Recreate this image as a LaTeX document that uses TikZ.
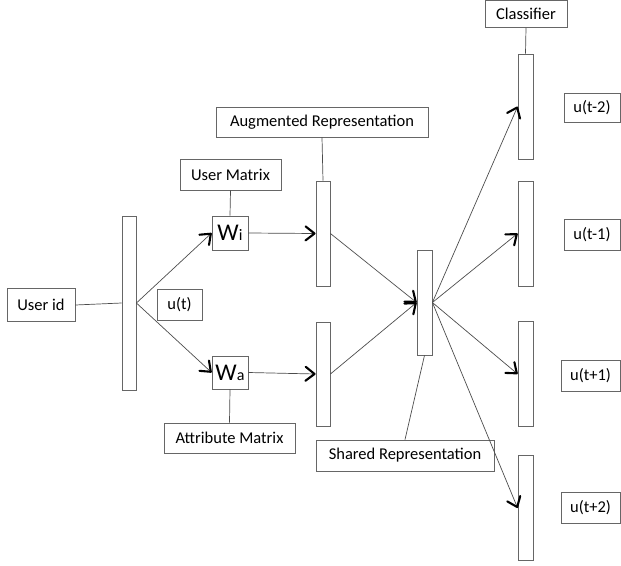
\documentclass[tikz,border=0pt]{standalone}
\usepackage{fontspec}
\setmainfont{Carlito}
\usetikzlibrary{arrows.meta}

\tikzset{
  box/.style={draw=black!60, line width=0.8pt, fill=white, inner sep=0pt, font=\fontsize{16.5}{18}\selectfont},
  bar/.style={draw=black!60, line width=0.8pt, fill=white, inner sep=0pt, minimum width=14pt, minimum height=105pt},
  link/.style={draw=black!70, line width=0.7pt},
  flow/.style={link, -{Straight Barb[length=9pt, width=14pt, line width=2.1pt, round, black]}},
}
\newcommand{\wmat}[1]{{\fontsize{24}{24}\selectfont W}{\fontsize{16}{16}\selectfont #1}}

\begin{document}
\begin{tikzpicture}[x=1pt, y=-1pt]
            \useasboundingbox (0,0) rectangle (621,565);

            % Input side
            \node (userid) [box, minimum width=68pt, minimum height=33pt] at (41, 305) {User id};
            \node (inbar) [bar, minimum height=174pt] at (129, 303) {};
            \node (ut) [box, minimum width=45pt, minimum height=31pt] at (179.5, 304.5) {u(t)};

            % Embedding matrices
            \node (umat) [box, minimum width=101pt, minimum height=31pt] at (230.5, 174.5) {User Matrix};
            \node (wi) [box, minimum width=36pt, minimum height=34pt] at (230, 233) {\wmat{i}};
            \node (wa) [box, minimum width=36pt, minimum height=33pt] at (230, 372.5) {\wmat{a}};
            \node (amat) [box, minimum width=131pt, minimum height=30pt] at (229.5, 438) {Attribute Matrix};

            % Augmented representation
            \node (augrep) [box, minimum width=212pt, minimum height=30pt] at (322, 122) {Augmented Representation};
            \node (augtop) [bar] at (323, 233.5) {};
            \node (augbot) [bar, minimum height=104pt] at (323, 374) {};

            % Shared representation
            \node (shared) [bar, minimum width=15pt] at (424.5, 302.5) {};
            \node (sharedrep) [box, minimum width=178pt, minimum height=31pt] at (405, 455.5) {Shared Representation};

            % Classifiers
            \node (classifier) [box, minimum width=82pt, minimum height=27pt] at (526, 14) {Classifier};
            \node (cls1) [bar, minimum width=15pt] at (525.5, 106.5) {};
            \node (cls2) [bar, minimum width=15pt] at (525.5, 233.5) {};
            \node (cls3) [bar, minimum width=15pt] at (525.5, 374) {};
            \node (cls4) [bar, minimum width=15pt] at (525.5, 508) {};

            % Outputs
            \node (utm2) [box, minimum width=56pt, minimum height=29pt] at (592, 107.5) {u(t-2)};
            \node (utm1) [box, minimum width=56pt, minimum height=31pt] at (592, 234.5) {u(t-1)};
            \node (utp1) [box, minimum width=59pt, minimum height=31pt] at (590.5, 375.5) {u(t+1)};
            \node (utp2) [box, minimum width=59pt, minimum height=31pt] at (590.5, 507.5) {u(t+2)};

            % Plain links
            \draw[link] (userid.east) -- (inbar.west);
            \draw[link] (umat.south) -- (wi.north);
            \draw[link] (wa.south) -- (amat.north);
            \draw[link] (augrep.south) -- (augtop.north);
            \draw[link] (classifier.south) -- (cls1.north);
            \draw[link] (shared.south) -- (sharedrep.north);

            % Arrows
            \draw[flow] (inbar.east) -- (wi.west);
            \draw[flow] (inbar.east) -- (wa.west);
            \draw[flow] (wi.east) -- (augtop.west);
            \draw[flow] (wa.east) -- (augbot.west);
            \draw[flow] (augtop.east) -- (shared.west);
            \draw[flow] (augbot.east) -- (shared.west);
            \draw[flow] (shared.east) -- (cls1.west);
            \draw[flow] (shared.east) -- (cls2.west);
            \draw[flow] (shared.east) -- (cls3.west);
            \draw[flow] (shared.east) -- (cls4.west);

        \end{tikzpicture}
\end{document}
